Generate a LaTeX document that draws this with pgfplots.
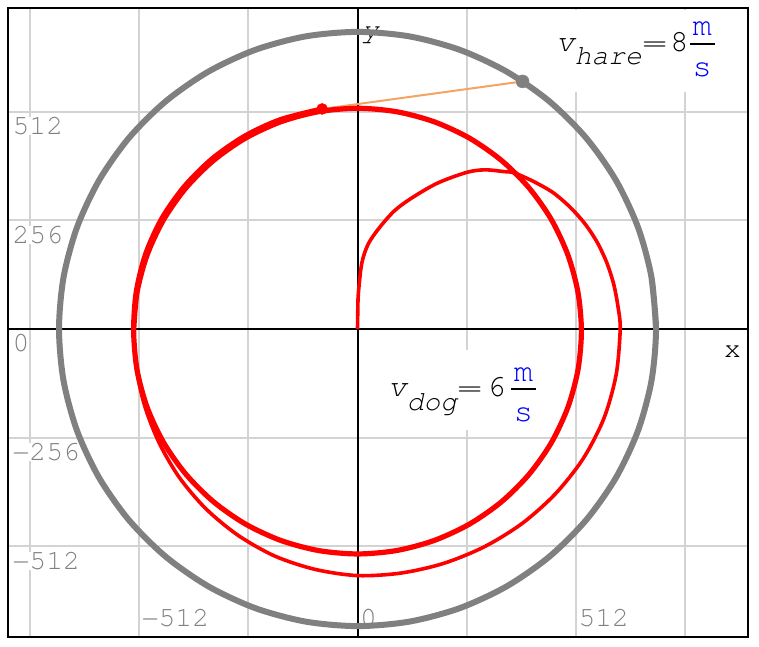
\documentclass[border=0pt]{standalone}
\usepackage{pgfplots}
\pgfplotsset{compat=1.18}
\usepackage{fontspec}
\setmainfont{TeX Gyre Cursor}
\definecolor{gridgray}{RGB}{211,211,211}
\definecolor{harecol}{RGB}{128,128,128}
\definecolor{linkcol}{RGB}{244,164,96}
\definecolor{labgray}{RGB}{128,128,128}
\newcommand{\tf}{\fontsize{28bp}{32bp}\selectfont}
\newcommand{\vf}{\fontsize{31bp}{34bp}\selectfont}
\newcommand{\uf}{\fontsize{32bp}{34bp}\selectfont}
\newcommand{\frc}{\raisebox{-25bp}{\vbox{\hbox to 25bp{\hss\uf\textcolor{blue}{m}\hss}\kern 7bp\hrule height 2bp\kern 18bp\hbox to 25bp{\hss\uf\textcolor{blue}{s}\hss}}}}
\newcommand{\eq}{\scalebox{1.5}[1]{=}}
\begin{document}
\begin{tikzpicture}
\begin{axis}[
  name=ax, scale only axis, width=740.5bp, height=629bp,
  xmin=-820.8, xmax=915.7, ymin=-725.7, ymax=756.3,
  axis line style={black, line width=2bp},
  xtick={-768,-512,-256,256,512,768},
  xticklabels={,−512,,,512,},
  ytick={-512,-256,256,512},
  yticklabels={−512,−256,256,512},
  extra x ticks={0}, extra x tick labels={0},
  extra y ticks={0}, extra y tick labels={0},
  grid=major,
  major grid style={draw=gridgray, line width=2.2bp},
  extra tick style={grid=major, major grid style={draw=black, line width=2bp}},
  major tick length=0pt,
  tick style={draw=none},
  tick label style={font=\tf, text=labgray, fill=white, inner sep=0pt},
  xticklabel style={anchor=south west, xshift=2.5bp, yshift=10bp},
  yticklabel style={anchor=north west, xshift=5bp, yshift=-5.3bp},
]
\node[anchor=base west, inner sep=0pt, font=\tf\itshape] at (axis cs:10.6,683.3) {y};
\addplot[draw=linkcol, line width=2bp] coordinates {(-82.9,518.5) (387,583.3)};
\addplot[draw=harecol, line width=6bp, smooth] coordinates {
(700,0) (689.4,121.6) (657.8,239.4) (606.2,350) (536.2,450) (450,536.2) (350,606.2) (239.4,657.8) (121.6,689.4) (0,700)
(-121.6,689.4) (-239.4,657.8) (-350,606.2) (-450,536.2) (-536.2,450) (-606.2,350) (-657.8,239.4) (-689.4,121.6) (-700,0)
(-689.4,-121.6) (-657.8,-239.4) (-606.2,-350) (-536.2,-450) (-450,-536.2) (-350,-606.2) (-239.4,-657.8) (-121.6,-689.4) (0,-700)
(121.6,-689.4) (239.4,-657.8) (350,-606.2) (450,-536.2) (536.2,-450) (606.2,-350) (657.8,-239.4) (689.4,-121.6) (700,0) (689.4,121.6)};
\addplot[draw=red, line width=3.6bp, smooth, line join=round] coordinates {
(0,0) (0.6,40) (2,84) (10,155) (25,200) (50,237) (85,277) (123,306) (186,343) (256,369) (299,375) (342,371)
(367.7,367.7) (413.7,347.1) (458.7,321.2) (498,287.5) (532.9,248.5) (561.9,204.5) (584.4,156.6) (600.7,105.9) (610.7,53.4) (616,0)
(606.6,-107) (577.9,-210.3) (529.1,-305.5) (463.5,-388.9) (385,-458.9) (296.5,-513.5) (201.1,-552.5) (101.4,-575.1) (0,-581)
(-99.8,-566.3) (-194.6,-534.7) (-280.5,-485.8) (-355.5,-423.6) (-417.5,-350.3) (-465.1,-268.5) (-499,-181.6) (-519,-91.5) (-525,-5)};
\addplot[draw=red, line width=5.2bp, smooth, line join=round] coordinates {
(-525,-5) (-517,86.2) (-493.3,174.6) (-454.7,257.5) (-402.2,332.5) (-337.5,397.2) (-262.5,449.7) (-179.6,488.3) (-91.2,512) (0,520)
(91.2,512) (179.6,488.3) (262.5,449.7) (337.5,397.2) (402.2,332.5) (454.7,257.5) (493.3,174.6) (517,86.2) (525,-5)
(517,-96.2) (493.3,-184.6) (454.7,-267.5) (402.2,-342.5) (337.5,-407.2) (262.5,-459.7) (179.6,-498.3) (91.2,-522) (0,-530)
(-91.2,-522) (-179.6,-498.3) (-262.5,-459.7) (-337.5,-407.2) (-402.2,-342.5) (-454.7,-267.5) (-493.3,-184.6) (-517,-96.2) (-525,-5)
(-519,86.5) (-497.1,175.9) (-459,260) (-406,335.7) (-340.7,401) (-265,454) (-181.3,493) (-82.9,518.5)};
\addplot[only marks, mark=*, mark size=5.5bp, color=red] coordinates {(-82.9,518.5)};
\addplot[only marks, mark=*, mark size=6.5bp, color=harecol] coordinates {(387,583.3)};
\node[anchor=base west, inner sep=0pt, font=\tf] at (axis cs:859.5,-66) {x};
\node[fill=white, minimum width=182bp, minimum height=82bp, inner sep=0pt] at (axis cs:660.1,655) {};
\node[anchor=base west, inner sep=0pt, font=\tf] at (axis cs:465.5,653.9) {{\vf\itshape v}\raisebox{-13.5bp}{\itshape hare}\eq\hspace{3bp}{\vf 8}\hspace{1bp}\frc};
\node[fill=white, minimum width=165bp, minimum height=80bp, inner sep=0pt] at (axis cs:246.2,-143.7) {};
\node[anchor=base west, inner sep=0pt, font=\tf] at (axis cs:71.5,-160.2) {{\vf\itshape v}\raisebox{-13.5bp}{\itshape dog}\eq\hspace{5bp}{\vf 6}\hspace{5bp}\frc};
\end{axis}
\pgfresetboundingbox
\path[use as bounding box] (ax.south west) ++(-7.5bp,-9bp) rectangle ([xshift=11bp,yshift=8bp]ax.north east);
\end{tikzpicture}
\end{document}
